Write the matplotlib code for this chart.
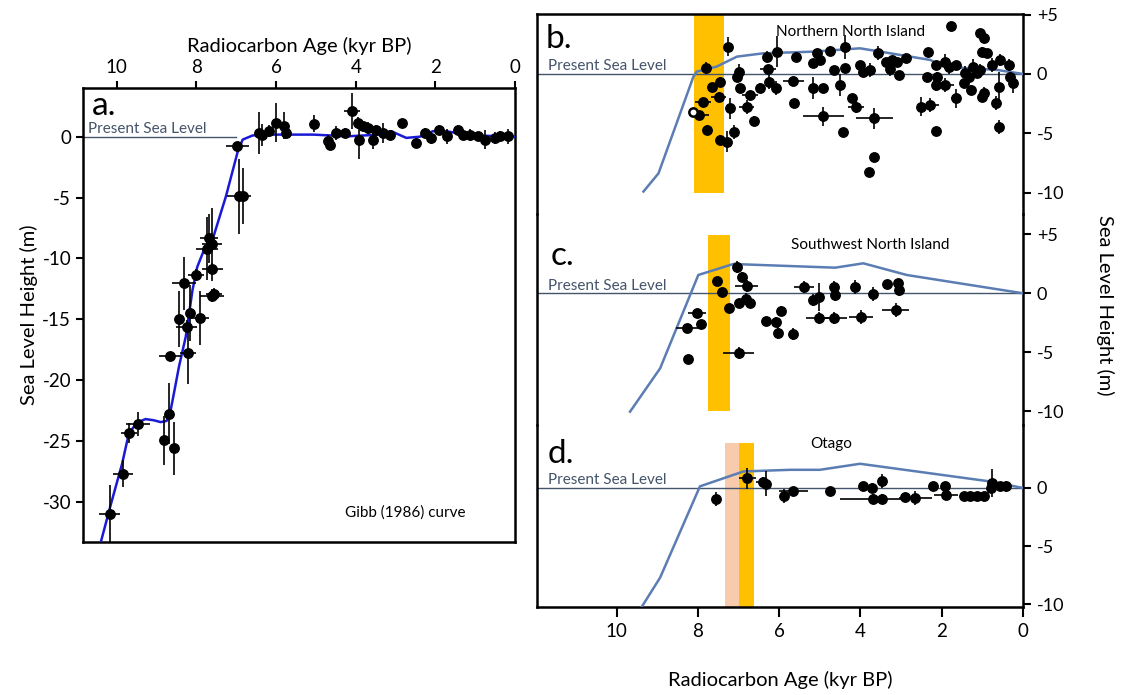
import numpy as np
import matplotlib.pyplot as plt

plt.rcParams['font.family'] = ['Lato', 'DejaVu Sans']
plt.rcParams['axes.unicode_minus'] = False

# ---------------- data ----------------
# panel a: Gibb (1986) compilation
a_age = [10.18, 9.85, 9.70, 9.47, 8.82, 8.69, 8.56, 8.67, 8.21, 8.45, 8.25, 8.17, 7.92,
         8.31, 8.02, 7.74, 7.68, 7.60, 7.60, 7.61, 7.56, 6.94, 6.82, 6.97,
         6.42, 6.36, 6.17, 6.00, 5.80, 5.75, 5.04, 4.70, 4.64, 4.49, 4.28, 4.09, 3.95,
         3.92, 3.82, 3.69, 3.57, 3.48, 3.32, 3.15, 2.83, 2.48, 2.27, 2.10, 1.91, 1.72,
         1.43, 1.30, 1.13, 0.92, 0.76, 0.50, 0.38, 0.17]
a_height = [-31.0, -27.7, -24.35, -23.6, -24.95, -22.75, -25.6, -18.0, -17.8, -15.0, -15.6,
            -14.5, -14.9, -12.05, -11.35, -9.2, -8.35, -8.85, -10.9, -13.05, -12.9, -4.9,
            -4.9, -0.8,
            0.3, 0.17, 0.45, 1.13, 0.9, 0.3, 1.08, -0.38, -0.65, 0.3, 0.3, 2.1, 1.14,
            -0.24, 0.86, 0.72, -0.24, 0.58, 0.31, 0.17, 1.14, -0.51, 0.31, -0.1, 0.58,
            0.03, 0.58, 0.17, 0.17, 0.03, -0.24, -0.1, 0.03, 0.03]
a_age_err = [0.27, 0.25, 0.2, 0.3, 0.05, 0.05, 0.05, 0.28, 0.2, 0.1, 0.27, 0.1, 0.23,
             0.3, 0.2, 0.27, 0.23, 0.25, 0.26, 0.3, 0.2, 0.3, 0.1, 0.3,
             0.05, 0.05, 0.1, 0.1, 0.05, 0.05, 0.05, 0.1, 0.05, 0.1, 0.1, 0.2, 0.1,
             0.05, 0.1, 0.1, 0.05, 0.1, 0.1, 0.1, 0.05, 0.05, 0.1, 0.05, 0.1, 0.05,
             0.1, 0.1, 0.1, 0.05, 0.05, 0.05, 0.05, 0.05]
a_height_err = [2.4, 1.1, 0.8, 1.0, 2.0, 2.5, 2.2, 0.3, 2.5, 2.3, 0.5, 2.3, 2.2,
                2.2, 0.5, 2.6, 2.0, 3.0, 0.5, 0.5, 0.5, 3.1, 2.3, 0.4,
                1.7, 0.9, 0.5, 1.6, 1.1, 0.5, 0.7, 0.5, 0.4, 0.6, 0.4, 1.5, 0.5,
                1.6, 0.4, 0.5, 0.8, 0.4, 0.8, 0.4, 0.2, 0.4, 0.4, 0.5, 0.4, 0.6,
                0.4, 0.4, 0.5, 0.3, 0.8, 0.5, 0.4, 0.6]
gibb_age = [10.41, 10.15, 9.87, 9.70, 9.50, 9.28, 9.07, 8.90, 8.75, 8.65, 8.55, 8.44, 8.27,
            8.10, 7.98, 7.81, 7.60, 7.26, 6.97, 6.84, 6.59, 6.30, 5.90, 5.06, 4.22,
            3.38, 3.11, 2.73, 2.39, 2.06, 1.72, 1.47, 1.0, 0.0]
gibb_height = [-33.4, -30.2, -26.9, -24.4, -23.5, -23.2, -23.3, -23.45, -23.35, -22.5,
               -20.8, -18.9, -16.45, -12.6, -10.7, -9.3, -8.5, -4.9, -1.3, -0.24, 0.1,
               0.17, 0.17, 0.17, 0.03, 0.17, 0.45, -0.1, 0.0, 0.45, 0.45, 0.3, 0.1, 0.0]

# panel b: Northern North Island
b_age = [7.81, 7.25, 7.00, 7.04, 7.46, 7.66, 6.97, 7.49, 7.88, 7.97, 7.21, 7.78, 7.46,
         7.29, 7.11, 6.80, 6.72, 6.62, 6.47, 6.29, 6.27, 6.25, 6.08, 6.05, 5.65, 5.63,
         5.59, 5.16, 5.17, 5.06, 4.99, 4.93, 4.91, 4.76, 4.66, 4.50, 4.44, 4.38, 4.38,
         4.21, 4.11, 4.02, 3.93, 3.76, 3.66, 3.66, 3.80, 3.56, 3.37, 3.23, 3.10, 3.06,
         3.27, 2.87, 2.35, 2.36, 2.51, 2.28, 2.14, 2.14, 2.15, 1.91, 1.91, 1.77, 1.81,
         1.64, 1.64, 1.46, 1.43, 1.28, 1.23, 1.05, 0.97, 1.01, 0.89, 1.05, 0.97, 1.01,
         0.76, 0.66, 0.60, 0.60, 0.56, 0.35, 0.31, 0.25, 1.32, 1.14, 2.12]
b_height = [0.48, 2.3, 0.2, -0.22, -0.65, -1.12, -1.19, -1.91, -2.33, -3.45, -2.89, -4.72,
            -5.56, -5.7, -4.86, -2.75, -1.77, -3.93, -1.19, 1.46, 0.39, -0.65, -1.19, 1.88,
            -0.56, -2.47, 1.46, -1.19, 0.9, 1.74, 1.18, -1.15, -3.54, 1.96, 0.34, -0.93,
            -4.86, 2.3, 0.48, -2.05, -2.81, 0.76, 0.2, 0.34, -3.73, -7.02, -8.23, 1.74,
            1.04, 1.18, 1.04, -0.08, 0.39, 1.32, 1.81, -0.22, -2.75, -2.61, -4.78, -0.93,
            0.76, 1.04, -0.93, 4.04, 0.62, 0.76, -2.05, -0.79, 0.06, -1.35, 0.62, 3.43,
            3.0, 1.88, 1.74, 0.34, -1.63, -1.91, 0.76, -2.47, -4.44, -1.07, 1.18, 0.76,
            -0.22, -0.79, -0.22, 0.06, -0.22]
b_age_err = [0.10, 0.05, 0.05, 0.05, 0.05, 0.08, 0.05, 0.19, 0.19, 0.24, 0.05, 0.1, 0.08,
             0.05, 0.05, 0.19, 0.19, 0.08, 0.05, 0.05, 0.19, 0.05, 0.05, 0.05, 0.25, 0.05,
             0.05, 0.05, 0.05, 0.05, 0.05, 0.05, 0.5, 0.05, 0.05, 0.08, 0.08, 0.05, 0.05,
             0.05, 0.2, 0.05, 0.05, 0.05, 0.45, 0.05, 0.08, 0.05, 0.05, 0.05, 0.05, 0.05,
             0.05, 0.05, 0.05, 0.05, 0.1, 0.22, 0.1, 0.05, 0.05, 0.05, 0.2, 0.1, 0.05,
             0.05, 0.12, 0.05, 0.05, 0.1, 0.05, 0.1, 0.1, 0.1, 0.05, 0.05, 0.1, 0.05,
             0.05, 0.05, 0.08, 0.05, 0.05, 0.05, 0.05, 0.05, 0.05, 0.05, 0.05]
b_height_err = [0.5, 0.8, 0.6, 0.4, 0.4, 0.3, 0.3, 0.4, 0.3, 0.3, 0.9, 0.4, 0.4,
                0.9, 0.6, 0.6, 0.3, 0.4, 0.4, 0.5, 0.3, 0.6, 0.6, 1.3, 0.3, 0.3,
                0.4, 0.9, 0.4, 0.3, 0.3, 0.3, 0.8, 0.4, 0.3, 0.9, 0.3, 1.0, 0.3,
                0.4, 0.5, 0.3, 0.3, 0.6, 0.9, 0.4, 0.3, 0.6, 0.3, 0.3, 0.3, 0.3,
                0.6, 0.3, 0.4, 0.3, 0.8, 0.6, 0.3, 0.5, 0.3, 0.6, 0.6, 0.2, 0.6,
                0.3, 0.8, 0.3, 0.6, 0.4, 0.6, 0.3, 0.3, 0.4, 0.3, 0.5, 0.5, 0.4,
                0.6, 0.6, 0.6, 1.2, 0.5, 0.5, 0.4, 0.8, 0.4, 0.4, 0.4]
b_open_age = [8.13]
b_open_height = [-3.17]
b_curve_age = [9.34, 8.97, 8.11, 8.03, 7.54, 7.04, 6.39, 5.16, 4.01, 3.51, 2.28, 1.96, 0.64, 0.0]
b_curve_height = [-9.9, -8.37, -0.22, 0.2, 0.62, 1.46, 1.74, 1.88, 2.16, 1.88, 1.18, 0.62, 0.34, 0.0]

# panel c: Southwest North Island
c_age = [8.24, 8.26, 8.03, 7.93, 7.54, 7.41, 7.23, 7.05, 6.92, 6.80, 6.98, 6.81, 6.71,
         7.00, 6.32, 6.08, 5.96, 6.02, 5.67, 5.39, 5.17, 5.03, 5.02, 4.66, 4.62, 4.66,
         4.13, 3.98, 3.69, 3.35, 3.08, 3.06, 3.13]
c_height = [-5.6, -2.91, -1.7, -2.6, 1.07, 0.14, -1.22, 2.25, 1.41, 0.62, -0.85, -0.51,
            -0.85, -5.08, -2.32, -2.4, -1.5, -3.34, -3.48, 0.51, -0.6, -0.31, -2.12, 0.51,
            -0.14, -2.12, 0.51, -1.98, -0.06, 0.79, 0.85, 0.28, -1.42]
c_age_err = [0.05, 0.29, 0.22, 0.05, 0.05, 0.05, 0.05, 0.05, 0.05, 0.29, 0.05, 0.05, 0.05,
             0.39, 0.1, 0.1, 0.05, 0.05, 0.1, 0.25, 0.1, 0.05, 0.33, 0.1, 0.1, 0.33,
             0.1, 0.3, 0.05, 0.1, 0.1, 0.1, 0.33]
c_height_err = [0.3, 0.3, 0.3, 0.3, 0.3, 0.3, 0.3, 0.5, 0.4, 0.5, 0.3, 0.5, 0.3,
                0.5, 0.3, 0.4, 0.4, 0.5, 0.5, 0.5, 0.5, 1.2, 0.5, 0.5, 0.5, 0.5,
                0.6, 0.6, 0.6, 0.3, 0.3, 0.5, 0.6]
c_curve_age = [9.67, 8.93, 7.99, 7.13, 4.62, 3.93, 2.86, 0.0]
c_curve_height = [-10.03, -6.36, 1.55, 2.48, 2.17, 2.54, 1.55, 0.0]

# panel d: Otago
d_age = [7.56, 6.78, 6.41, 6.32, 5.87, 5.65, 4.76, 3.93, 3.72, 3.68, 3.47, 3.47, 2.90,
         2.65, 2.22, 1.91, 1.90, 1.46, 1.30, 1.13, 0.97, 0.76, 0.79, 0.56, 0.42]
d_height = [-0.94, 0.85, 0.51, 0.37, -0.71, -0.28, -0.28, 0.14, 0.0, -0.94, -0.94, 0.57,
            -0.77, -0.85, 0.14, 0.14, -0.57, -0.71, -0.71, -0.71, -0.71, 0.43, 0.0, 0.14, 0.14]
d_age_err = [0.1, 0.2, 0.15, 0.05, 0.1, 0.35, 0.1, 0.05, 0.05, 0.82, 0.05, 0.05, 0.05,
             0.4, 0.05, 0.05, 0.3, 0.05, 0.05, 0.05, 0.05, 0.05, 0.05, 0.05, 0.05]
d_height_err = [0.6, 0.9, 0.4, 1.1, 0.6, 0.4, 0.4, 0.4, 0.4, 0.4, 0.4, 0.6, 0.3,
                0.6, 0.4, 0.4, 0.4, 0.3, 0.3, 0.3, 0.3, 1.2, 0.4, 0.4, 0.5]
d_curve_age = [9.38, 8.93, 7.95, 6.88, 5.73, 5.00, 4.01, 0.81, 0.0]
d_curve_height = [-10.2, -7.7, 0.14, 1.42, 1.56, 1.56, 2.08, 0.56, 0.0]

# orange time windows (age from, age to, height bottom, height top)
b_band = [8.10, 7.35, -10.0, 5.0]
c_band = [7.76, 7.21, -10.0, 4.9]
d_band_light = [7.33, 7.00, -10.2, 3.9]
d_band = [7.00, 6.61, -10.2, 3.9]

# ---------------- styling ----------------
sea_col = '#44546A'
curve_col = '#5B7DB3'
orange = '#FFC000'
peach = '#F8CBAD'
pt = dict(fmt='o', color='black', ms=6.8, elinewidth=1.2, capsize=0, zorder=5)

fig = plt.figure(figsize=(11.25, 6.95), dpi=100)

# ----- panel a -----
ax = fig.add_axes([83 / 1125, 1 - 542 / 695, 432 / 1125, 454 / 695])
ax.axhline(0, xmax=(10.85 - 7.0) / 10.85, color=sea_col, lw=1.0)
ax.plot(gibb_age, gibb_height, color='#1a1ad6', lw=1.8, zorder=4)
ax.errorbar(a_age, a_height, xerr=a_age_err, yerr=a_height_err, **pt)
ax.set_xlim(10.85, 0)
ax.set_ylim(-33.3, 4.0)
ax.xaxis.tick_top()
ax.xaxis.set_label_position('top')
ax.set_xticks([10, 8, 6, 4, 2, 0])
ax.set_yticks([0, -5, -10, -15, -20, -25, -30])
ax.tick_params(direction='out', length=5, width=1.5, labelsize=13.5)
ax.set_xlabel('Radiocarbon Age (kyr BP)', fontsize=14.5, labelpad=5)
ax.set_ylabel('Sea Level Height (m)', fontsize=14.5, labelpad=3)
for s in ax.spines.values():
    s.set_linewidth(1.8)
ax.text(0.021, 0.94, 'a.', transform=ax.transAxes, fontsize=24)
ax.text(10.72, 0.3, 'Present Sea Level', color=sea_col, fontsize=11)
ax.text(2.75, -30.9, 'Gibb (1986) curve', fontsize=11, ha='center', va='center')

# ----- panels b, c, d -----
rects = [[537 / 1125, 1 - 213.5 / 695, 486 / 1125, 199.5 / 695],
         [537 / 1125, 1 - 425 / 695, 486 / 1125, 211.5 / 695],
         [537 / 1125, 1 - 606.7 / 695, 486 / 1125, 181.7 / 695]]
ylims = [(-11.75, 5.05), (-11.16, 6.76), (-10.2, 5.41)]
yticks = [[5, 0, -5, -10], [5, 0, -5, -10], [0, -5, -10]]
panels = [
    ('b.', 'Northern North Island', (4.25, 3.54), b_age, b_height, b_age_err, b_height_err,
     b_curve_age, b_curve_height, [(b_band, orange)], 0.83, 0.0185),
    ('c.', 'Southwest North Island', (3.76, 4.09), c_age, c_height, c_age_err, c_height_err,
     c_curve_age, c_curve_height, [(c_band, orange)], 0.757, 0.029),
    ('d.', 'Otago', (4.72, 3.79), d_age, d_height, d_age_err, d_height_err,
     d_curve_age, d_curve_height, [(d_band_light, peach), (d_band, orange)], 0.791, 0.021),
]
axes = []
for i, (lab, region, rpos, xs, ys, xe, ye, cx, cy, bands, ly, lx) in enumerate(panels):
    axp = fig.add_axes(rects[i])
    axes.append(axp)
    for band, col in bands:
        axp.fill_between([band[0], band[1]], band[2], band[3], color=col, lw=0, zorder=1)
    axp.axhline(0, color=sea_col, lw=1.0, zorder=2)
    axp.plot(cx, cy, color=curve_col, lw=1.8, zorder=3)
    axp.errorbar(xs, ys, xerr=xe, yerr=ye, **pt)
    axp.set_xlim(11.96, 0)
    axp.set_ylim(*ylims[i])
    axp.yaxis.tick_right()
    axp.set_yticks(yticks[i])
    axp.set_yticklabels(['+5' if t > 0 else str(t) for t in yticks[i]])
    axp.tick_params(axis='y', direction='out', length=6, width=1.5, labelsize=13, pad=4)
    for s in axp.spines.values():
        s.set_linewidth(1.8)
    if i > 0:
        axp.spines['top'].set_visible(False)
    if i < 2:
        axp.spines['bottom'].set_visible(False)
        axp.set_xticks([])
    axp.text(lx, ly, lab, transform=axp.transAxes, fontsize=24)
    axp.text(rpos[0], rpos[1], region, fontsize=11, ha='center', va='center')
    axp.text(11.7, 0.3, 'Present Sea Level', color=sea_col, fontsize=11)
    axp.patch.set_alpha(0)

axes[0].errorbar(b_open_age, b_open_height, xerr=0.1, yerr=0.3, fmt='o', color='black',
                 mfc='white', mew=1.8, ms=6, elinewidth=1.2, zorder=6)

axd = axes[2]
axd.set_xticks([10, 8, 6, 4, 2, 0])
axd.tick_params(axis='x', direction='out', length=7, width=1.5, labelsize=13.5, pad=5)
axd.set_xlabel('Radiocarbon Age (kyr BP)', fontsize=14.5, labelpad=22)

fig.text(1105 / 1125, 1 - 305 / 695, 'Sea Level Height (m)', rotation=270,
         fontsize=14.5, ha='center', va='center')

fig.savefig('out.png', dpi=100)
